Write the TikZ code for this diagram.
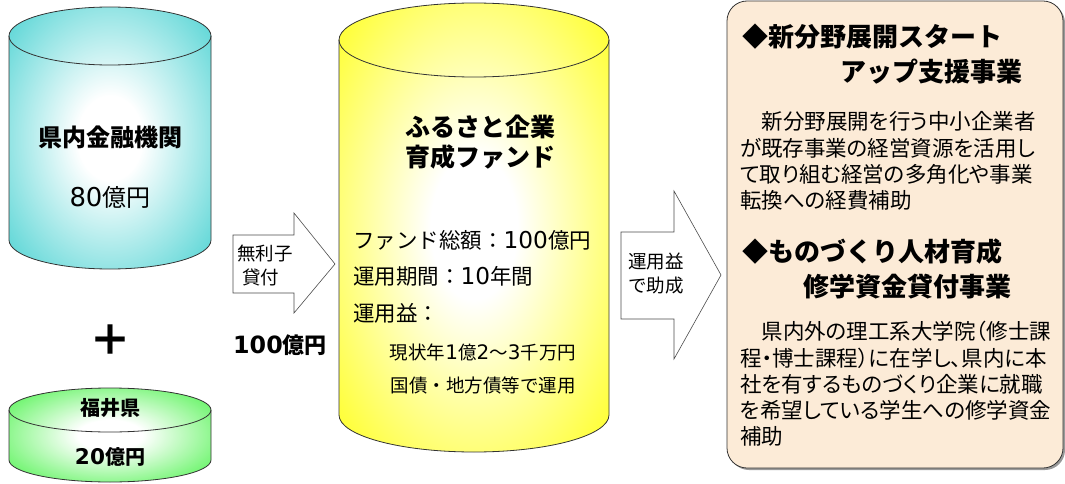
\documentclass[tikz,border=0pt]{standalone}
\usepackage{fontspec}
\setmainfont{Noto Sans CJK JP}
\newfontfamily\digitfont{DejaVu Sans}[Scale=1.08]
\newcommand*{\dg}[1]{{\digitfont #1}}
\usetikzlibrary{positioning}

\definecolor{tankteal}{RGB}{51,204,204}
\definecolor{tankgreen}{RGB}{45,240,45}
\definecolor{tankyellow}{RGB}{255,255,0}
\definecolor{boxtan}{RGB}{252,235,215}
\colorlet{drumcol}{white}

\pgfdeclareradialshading[drumcol]{drum}{\pgfpoint{0bp}{0bp}}{%
  color(0bp)=(white); color(8bp)=(white); color(40bp)=(drumcol); color(50bp)=(drumcol)}

% cx, half width, top y, bottom y, y radius, colour
\newcommand*{\drum}[6]{%
  \colorlet{drumcol}{#6}
  \shade[shading=drum] (#1-#2,#3) -- (#1-#2,#4)
    arc[start angle=180, end angle=360, x radius=#2pt, y radius=#5pt] -- (#1+#2,#3)
    arc[start angle=0, end angle=180, x radius=#2pt, y radius=#5pt] -- cycle;
  \draw[outline] (#1-#2,#3) -- (#1-#2,#4)
    arc[start angle=180, end angle=360, x radius=#2pt, y radius=#5pt] -- (#1+#2,#3)
    arc[start angle=0, end angle=180, x radius=#2pt, y radius=#5pt] -- cycle;
  \draw[outline] (#1-#2,#3) arc[start angle=180, end angle=360, x radius=#2pt, y radius=#5pt];
}

\tikzstyle{outline} = [draw=black!80, line width=0.8pt]
\tikzstyle{blockarrow} = [draw=black!70, line width=0.6pt, fill=white]
\tikzstyle{tankhead} = [font=\fontsize{24}{30}\selectfont\bfseries, inner sep=0pt]
\tikzstyle{tanksum} = [font=\fontsize{24}{30}\selectfont, inner sep=0pt]
\tikzstyle{fundline} = [font=\fontsize{21.5}{36.5}\selectfont, inner sep=0pt, align=left]
\tikzstyle{fundsub} = [font=\fontsize{18.5}{33}\selectfont, inner sep=0pt, align=center]
\tikzstyle{arrowtext} = [font=\fontsize{18.5}{24}\selectfont, inner sep=0pt, align=left]
\tikzstyle{boxhead} = [font=\fontsize{26}{35}\selectfont\bfseries, inner sep=0pt, align=left]
\tikzstyle{boxtext} = [font=\fontsize{21.5}{26.3}\selectfont\addfontfeature{RawFeature=+palt}, inner sep=0pt, align=left]

\begin{document}
\begin{tikzpicture}[x=1pt, y=1pt]
    \useasboundingbox (0,0) rectangle (1065,483);

    % tanks
    \drum{110}{101}{447}{243}{29}{tankteal}
    \drum{110}{101}{73}{23}{22}{tankgreen}
    \drum{474}{135}{443}{68}{37}{tankyellow}

    \node (banks) [tankhead] at (110, 346) {県内金融機関};
    \node (banks sum) [tanksum] at (110, 286) {\dg{80}億円};
    \node (plus) [font=\fontsize{42}{42}\selectfont\bfseries, inner sep=0pt] at (110, 143) {＋};
    \node (pref) [tankhead, font=\fontsize{20}{24}\selectfont\bfseries] at (110, 75) {福井県};
    \node (pref sum) [tankhead, font=\fontsize{20}{24}\selectfont\bfseries] at (110, 26) {\dg{20}億円};

    \node (fund) [tankhead, font=\fontsize{25}{30}\selectfont\bfseries, align=center] at (480, 341)
        {ふるさと企業\\育成ファンド};
    \node (fund data) [fundline, anchor=west] at (353, 206.5)
        {ファンド総額：\dg{100}億円\\運用期間：\dg{10}年間\\運用益：};
    \node (fund gain) [fundsub] at (483, 114.5)
        {現状年\dg{1}億\dg{2}～\dg{3}千万円\\国債・地方債等で運用};

    % arrows
    \draw [blockarrow] (233,248) -- (294,248) -- (294,270) -- (335,219)
        -- (294,170) -- (294,190) -- (233,190) -- cycle;
    \node (loan) [arrowtext, anchor=west] at (237, 217.5) {無利子\\\hspace*{5pt}貸付};
    \node (loan sum) [tankhead, font=\fontsize{22}{26}\selectfont\bfseries] at (280, 138) {\dg{100}億円};

    \draw [blockarrow] (621,251) -- (674,251) -- (674,292) -- (721,208)
        -- (674,124) -- (674,164) -- (621,164) -- cycle;
    \node (grant) [arrowtext, anchor=west] at (628, 209) {運用益\\で助成};

    % projects
    \fill [black!40, rounded corners=20pt] (729,13) rectangle (1065,480);
    \draw [outline, fill=boxtan, rounded corners=20pt] (727,15) rectangle (1063,482);

    \node (startup) [boxhead, anchor=west] at (742, 428.5)
        {◆新分野展開スタート\\\hspace*{98pt}アップ支援事業};
    \node (startup text) [boxtext, anchor=west] at (740, 322)
        {　新分野展開を行う中小企業者\\が既存事業の経営資源を活用し\\て取り組む経営の多角化や事業\\転換への経費補助};
    \node (talent) [boxhead, anchor=west] at (742, 214.5)
        {◆ものづくり人材育成\\\hspace*{61pt}修学資金貸付事業};
    \node (talent text) [boxtext, anchor=west] at (740, 99)
        {　県内外の理工系大学院（修士課\\程・博士課程）に在学し、県内に本\\社を有するものづくり企業に就職\\を希望している学生への修学資金\\補助};
\end{tikzpicture}
\end{document}
